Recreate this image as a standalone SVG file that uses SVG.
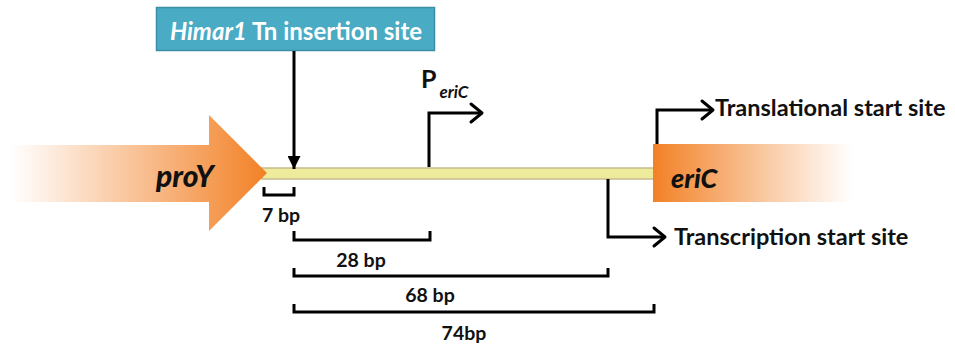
<svg xmlns="http://www.w3.org/2000/svg" width="955" height="347" viewBox="0 0 955 347">
  <defs>
    <linearGradient id="proyFade" x1="10" y1="0" x2="267" y2="0" gradientUnits="userSpaceOnUse">
      <stop offset="0" stop-color="#f28126" stop-opacity="0"/>
      <stop offset="0.15" stop-color="#f28126" stop-opacity="0.14"/>
      <stop offset="1" stop-color="#f28126" stop-opacity="1"/>
    </linearGradient>
    <linearGradient id="ericFade" x1="653" y1="0" x2="852" y2="0" gradientUnits="userSpaceOnUse">
      <stop offset="0" stop-color="#f28126" stop-opacity="1"/>
      <stop offset="0.85" stop-color="#f28126" stop-opacity="0.14"/>
      <stop offset="1" stop-color="#f28126" stop-opacity="0"/>
    </linearGradient>
    <marker id="solidHead" viewBox="0 0 10 10" refX="10" refY="5" markerWidth="13" markerHeight="13" markerUnits="userSpaceOnUse" orient="auto">
      <path d="M0,0 L10,5 L0,10 Z" fill="#000"/>
    </marker>
  </defs>
  <style>
    text { font-family: "Lato", "Open Sans", "Liberation Sans", sans-serif; font-weight: bold; fill: #111; }
    .lbl { font-size: 23.5px; }
    .bp { font-size: 19.5px; }
    .gene { font-style: italic; font-weight: 900; }
    .line { fill: none; stroke: #000; stroke-width: 3; }
    .chev { fill: none; stroke: #000; stroke-width: 3; stroke-linecap: round; stroke-linejoin: round; }
  </style>

  <!-- DNA backbone -->
  <g id="backbone">
    <rect x="262" y="168" width="394" height="11" fill="#eeeb9c" stroke="#c9bb8c" stroke-width="1.5"/>
  </g>

  <!-- upstream gene proY -->
  <g id="proY">
    <path d="M10,145 L209,145 L209,115 L267,173 L209,231 L209,202 L10,202 Z" fill="url(#proyFade)"/>
    <text class="gene" x="156" y="187" font-size="30">proY</text>
  </g>

  <!-- downstream gene eriC -->
  <g id="eriC">
    <rect x="653" y="144" width="199" height="58" fill="url(#ericFade)"/>
    <text class="gene" x="671" y="188" font-size="27">eriC</text>
  </g>

  <!-- transposon insertion label -->
  <g id="himar1">
    <rect x="156.5" y="7.5" width="278" height="43" fill="#4aabc4" stroke="#3b8ea4" stroke-width="1.5"/>
    <text x="296" y="40" text-anchor="middle" font-size="24" style="fill:#fff"><tspan font-style="italic">Himar1</tspan> Tn insertion site</text>
  </g>

  <!-- promoter label -->
  <g id="promoter">
    <text x="421" y="88" font-size="25">P<tspan font-size="17" font-style="italic" dx="3" dy="10">eriC</tspan></text>
  </g>

  <g id="translational-start">
    <text class="lbl" x="715" y="116">Translational start site</text>
  </g>

  <g id="transcription-start">
    <text class="lbl" x="674" y="245">Transcription start site</text>
  </g>

  <!-- connectors -->
  <g id="connectors">
    <!-- insertion arrow -->
    <line x1="294" y1="51" x2="294" y2="169" stroke="#000" stroke-width="3" marker-end="url(#solidHead)"/>
    <!-- promoter bent arrow -->
    <path class="line" d="M429,167 V113 H481"/>
    <path class="chev" d="M471,104 L482,113 L471,122"/>
    <!-- translational start bent arrow -->
    <path class="line" d="M657,144 V110 H712"/>
    <path class="chev" d="M702,101 L713,110 L702,119"/>
    <!-- transcription start bent arrow -->
    <path class="line" d="M608,179 V237 H664"/>
    <path class="chev" d="M654,228 L665,237 L654,246"/>
  </g>

  <!-- distance brackets -->
  <g id="bracket-7bp">
    <path class="line" d="M264,187 V195 H294 V187"/>
    <text class="bp" x="281" y="222" text-anchor="middle">7 bp</text>
  </g>
  <g id="bracket-28bp">
    <path class="line" d="M294,231 V240 H430 V231"/>
    <text class="bp" x="361" y="267" text-anchor="middle">28 bp</text>
  </g>
  <g id="bracket-68bp">
    <path class="line" d="M294,268 V276 H608 V268"/>
    <text class="bp" x="430" y="302" text-anchor="middle">68 bp</text>
  </g>
  <g id="bracket-74bp">
    <path class="line" d="M294,304 V312 H654 V304"/>
    <text class="bp" x="464" y="340" text-anchor="middle">74bp</text>
  </g>
</svg>
